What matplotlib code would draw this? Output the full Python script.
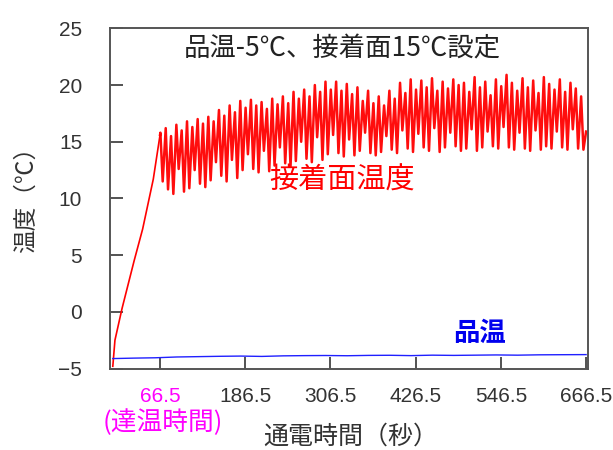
import matplotlib
matplotlib.use("Agg")
import matplotlib.pyplot as plt
import numpy as np

plt.rcParams['font.family'] = ['Noto Sans CJK JP', 'DejaVu Sans']

# 立ち上がり部分 (秒, ℃)
rise_t = [0, 3, 13, 30, 42, 57, 66.5]
rise_v = [-4.8, -2.5, 0.3, 4.5, 7.3, 11.7, 15.6]

# 66.5秒以降の山と谷 (約7.5秒周期)
period = 7.5
peaks = [15.8, 16.2, 15.5, 16.5, 16.0, 16.8, 16.3, 17.0, 16.6,
         17.2, 16.8, 17.8, 17.3, 18.2, 17.6, 18.6, 18.0,
         18.7, 18.2, 18.5, 17.9, 18.8, 18.3, 19.0, 18.4,
         19.4, 18.8, 19.6, 19.0, 20.0, 19.4, 20.3, 19.6,
         20.3, 19.5, 20.1, 19.2, 19.8, 18.6, 19.5, 18.4,
         19.0, 18.2, 19.5, 18.8, 20.2, 19.3, 20.5, 19.6,
         20.4, 19.8, 20.6, 19.5, 20.3, 19.7, 20.5, 20.0,
         20.2, 19.4, 20.7, 19.8, 20.3, 19.1, 20.5, 19.9,
         20.9, 20.2, 19.5, 20.6, 19.8, 20.4, 19.3, 20.7,
         20.1, 19.6, 20.5, 19.4, 20.2, 19.7, 19.0]
troughs = [11.5, 10.8, 10.4, 12.6, 10.6, 10.9, 12.5, 11.3, 11.0,
           11.6, 13.2, 12.0, 11.5, 13.4, 11.8, 12.5, 13.9,
           12.6, 12.3, 14.2, 12.4, 12.9, 14.5, 13.1, 12.8,
           13.3, 15.0, 13.5, 13.2, 15.4, 13.4, 13.9, 15.6,
           14.0, 13.7, 15.2, 13.8, 14.2, 15.8, 14.0, 13.8,
           14.1, 15.5, 14.3, 14.0, 16.0, 14.4, 14.1, 15.7,
           14.5, 14.2, 16.2, 14.1, 14.5, 15.8, 14.6, 14.2,
           14.4, 16.1, 14.2, 14.5, 15.9, 14.6, 14.4, 16.3,
           14.5, 14.3, 15.8, 14.4, 14.2, 16.0, 14.3, 14.6,
           14.4, 15.9, 14.5, 14.3, 16.1, 14.4, 14.3]
end_t, end_v = 666.5, 15.9

# 品温 (30秒ごと)
prod_t = [0, 30, 60, 90, 120, 150, 180, 210, 240, 270, 300, 330, 360,
          390, 420, 450, 480, 510, 540, 570, 600, 630, 666.5]
prod_v = [-4.12, -4.08, -4.05, -3.98, -3.95, -3.92, -3.9, -3.93, -3.88,
          -3.86, -3.85, -3.87, -3.84, -3.83, -3.86, -3.82, -3.84, -3.82,
          -3.8, -3.82, -3.79, -3.78, -3.77]

xticks = [66.5, 186.5, 306.5, 426.5, 546.5, 666.5]
yticks = [-5, 0, 5, 10, 15, 20, 25]

# 山谷を時系列に並べる
osc_t = [rise_t[-1]]
osc_v = [rise_v[-1]]
for i, (p, q) in enumerate(zip(peaks, troughs)):
    t0 = 66.5 + i * period
    osc_t += [t0 + 0.5, t0 + period / 2]
    osc_v += [p, q]
osc_t.append(end_t)
osc_v.append(end_v)

fig = plt.figure(figsize=(6.13, 4.5), dpi=100)
ax = fig.add_axes([0.1794, 0.181, 0.7796, 0.756])

ax.plot(rise_t, rise_v, color='#ff0000', linewidth=1.2)
ax.plot(osc_t, osc_v, color='#ff0000', linewidth=1.8, alpha=0.95)
ax.plot(prod_t, prod_v, color='#2020ff', linewidth=1.0)

ax.set_xlim(-4, 669)
ax.set_ylim(-5, 25)
ax.set_xticks(xticks)
ax.set_yticks(yticks)
ax.set_xticklabels([str(x) for x in xticks])
ax.tick_params(axis='both', direction='in', length=9, width=1.3,
               colors='#444444', labelsize=15)
ax.tick_params(axis='y', pad=20)
ax.tick_params(axis='x', pad=13)
for lbl in ax.get_xticklabels() + ax.get_yticklabels():
    lbl.set_color('#333333')
    lbl.set_family('Liberation Sans')
ax.get_xticklabels()[0].set_color('#ff00ff')
for s in ax.spines.values():
    s.set_color('#555555')
    s.set_linewidth(1.4)

ax.text(323, 23.2, '品温-5℃、接着面15℃設定', ha='center', va='center',
        fontsize=19, color='#222222')
ax.text(323, 11.6, '接着面温度', ha='center', va='center',
        fontsize=21, color='#ff0000')
ax.text(517, -1.9, '品温', ha='center', va='center',
        fontsize=19, color='#0000ee', fontweight='bold')

fig.text(163 / 613, 1 - 423 / 450, '(達温時間)', ha='center', va='center',
         fontsize=18.5, color='#ff00ff')
fig.text(351 / 613, 1 - 437 / 450, '通電時間（秒）', ha='center', va='center',
         fontsize=18, color='#333333')
fig.text(26 / 613, 1 - 194 / 450, '温度（℃）', ha='center', va='center',
         fontsize=17, color='#333333', rotation=90)

fig.savefig('out.png', dpi=100)
